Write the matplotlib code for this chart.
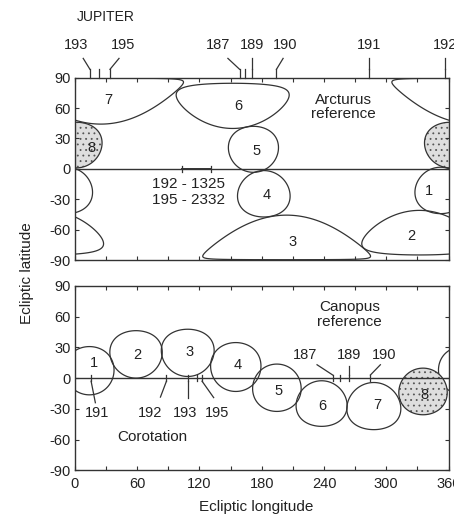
import numpy as np
import matplotlib
matplotlib.use("Agg")
import matplotlib.pyplot as plt
from matplotlib.patches import Polygon
from matplotlib.ticker import MultipleLocator, FuncFormatter
import matplotlib.transforms as mtransforms

plt.rcParams['font.family'] = ['Liberation Sans', 'DejaVu Sans']
plt.rcParams['hatch.linewidth'] = 0.6

INK = '#333333'
TXT = '#222222'
FS_TICK = 10.5
FS_TXT = 11

# ---- Arcturus-referenced regions (top panel): centre lon/lat and angular radius (deg)
top_ids = ['1', '2', '3', '4', '5', '6', '7', '8']
top_lon = [352.3, 332.0, 204.0, 182.0, 172.0, 152.0, 25.0, 1.5]
top_lat = [-21.3, -63.0, -67.7, -24.6, 19.3, 62.2, 66.9, 23.5]
top_rad = [22.9, 22.0, 22.0, 22.9, 22.7, 22.3, 22.7, 22.5]
top_label_lon = [340.7, 324.6, 210.0, 184.5, 175.0, 157.0, 32.5, 16.0]
top_label_lat = [-22.0, -66.5, -72.0, -26.2, 18.0, 62.2, 67.8, 20.6]

# ---- Canopus-referenced regions (bottom panel)
bot_ids = ['1', '2', '3', '4', '5', '6', '7', '8']
bot_lon = [14.0, 58.9, 108.7, 155.0, 194.6, 237.7, 288.0, 335.4]
bot_lat = [7.2, 23.1, 24.6, 10.8, -9.4, -24.8, -27.25, -13.0]
bot_rad = [23.5, 23.1, 23.0, 23.8, 23.05, 22.2, 22.95, 22.7]
bot_label_lon = [18.1, 60.5, 110.6, 157.2, 196.4, 238.0, 291.0, 337.0]
bot_label_lat = [14.6, 22.6, 25.9, 12.9, -13.0, -27.6, -26.0, -16.2]
stippled_id = '8'

# ---- Jupiter orbit markers, top panel (along upper axis)
top_orbit = [193, 194, 195, 187, 188, 189, 190, 191, 192]
top_orbit_lon = [14.5, 23.5, 33.8, 158.7, 164.3, 170.6, 194.2, 283.4, 356.8]
top_orbit_labeled = [True, False, True, True, False, True, True, True, True]
top_orbit_text_lon = [1.5, None, 46.0, 137.8, None, 170.6, 203.0, 283.4, 356.8]
top_orbit_leader_lon = [8.0, None, 42.5, 147.4, None, 170.6, 200.6, 283.4, 356.8]

# ---- Jupiter orbit markers, bottom panel (on the ecliptic)
bot_orbit = [191, 192, 193, 194, 195, 187, 188, 189, 190]
bot_orbit_lon = [15.6, 88.2, 109.0, 117.7, 122.5, 248.4, 255.8, 264.5, 284.7]
bot_orbit_text_lon = [21.4, 72.7, 106.5, None, 137.0, 222.0, None, 264.5, 297.5]
bot_orbit_text_lat = [-34.0, -34.0, -34.0, None, -34.0, 22.6, None, 22.6, 22.6]
bot_orbit_leader_lon = [19.7, 82.4, 109.0, None, 133.7, 233.3, None, 264.5, 294.3]
bot_orbit_leader_lat = [-24.0, -18.5, -19.0, None, -19.0, 13.0, None, 12.0, 13.0]

xticks = [0, 60, 120, 180, 240, 300, 360]
yticks = [-90, -60, -30, 0, 30, 60, 90]


def cap(lon0, lat0, r, n=721):
    th = np.linspace(0, 2 * np.pi, n)
    p0, rr = np.radians(lat0), np.radians(r)
    sinp = np.sin(p0) * np.cos(rr) + np.cos(p0) * np.sin(rr) * np.cos(th)
    p = np.arcsin(np.clip(sinp, -1, 1))
    dl = np.arctan2(np.sin(th) * np.sin(rr) * np.cos(p0),
                    np.cos(rr) - np.sin(p0) * sinp)
    return lon0 + np.degrees(dl), np.degrees(p)


def draw_caps(ax, ids, lons, lats, rads):
    for i, lo, la, r in zip(ids, lons, lats, rads):
        x, y = cap(lo, la, r)
        for off in (-360, 0, 360):
            pts = np.column_stack([x + off, y])
            if i == stippled_id:
                poly = Polygon(pts, closed=True, facecolor='#dedede',
                               edgecolor='#555555', hatch='...', lw=0)
                ax.add_patch(poly)
            ax.add_patch(Polygon(pts, closed=True, fill=False,
                                 edgecolor=INK, lw=0.9))


def style(ax, show_x):
    ax.set_xlim(0, 360)
    ax.set_ylim(-90, 90)
    ax.xaxis.set_major_locator(MultipleLocator(30))
    ax.yaxis.set_major_locator(MultipleLocator(30))
    ax.xaxis.set_major_formatter(FuncFormatter(
        lambda v, _: (str(int(round(v))) if (show_x and round(v) in xticks) else '')))
    ax.yaxis.set_major_formatter(FuncFormatter(
        lambda v, _: str(int(round(v))) if round(v) in yticks else ''))
    ax.tick_params(direction='in', length=3, width=0.8, color=INK,
                   top=True, right=True, labelsize=FS_TICK, labelcolor=TXT)
    ax.tick_params(axis='y', pad=3)
    ax.tick_params(axis='x', pad=5)
    for s in ax.spines.values():
        s.set_color(INK)
        s.set_linewidth(1.0)
    ax.axhline(0, color=INK, lw=1.0)


fig = plt.figure(figsize=(4.54, 5.16), dpi=100)
ax1 = fig.add_axes([0.165, 0.4961, 0.823, 0.3533])
ax2 = fig.add_axes([0.165, 0.0882, 0.823, 0.3581])

style(ax1, False)
style(ax2, True)

draw_caps(ax1, top_ids, top_lon, top_lat, top_rad)
draw_caps(ax2, bot_ids, bot_lon, bot_lat, bot_rad)

for i, lo, la in zip(top_ids, top_label_lon, top_label_lat):
    ax1.text(lo, la, i, ha='center', va='center', fontsize=FS_TICK, color=TXT)
for i, lo, la in zip(bot_ids, bot_label_lon, bot_label_lat):
    ax2.text(lo, la, i, ha='center', va='center', fontsize=FS_TICK, color=TXT)

# top Jupiter markers
trans = mtransforms.blended_transform_factory(ax1.transData, ax1.transAxes)
for orb, lo, lab, tlo, llo in zip(top_orbit, top_orbit_lon, top_orbit_labeled,
                                  top_orbit_text_lon, top_orbit_leader_lon):
    ax1.plot([lo, lo], [1.0, 1.046], transform=trans, color=INK, lw=0.9,
             clip_on=False)
    if lab:
        ax1.plot([lo, llo], [1.046, 1.106], transform=trans, color=INK,
                 lw=0.9, clip_on=False)
        ax1.text(tlo, 1.18, str(orb), transform=trans, ha='center',
                 va='center', fontsize=FS_TICK, color=TXT, clip_on=False)
ax1.text(2.0, 1.335, 'JUPITER', transform=trans, ha='left', va='center',
         fontsize=10, color=TXT)

# scale bar on ecliptic
ax1.plot([103.2, 131.2], [0, 0], color=INK, lw=1.4)
ax1.plot([103.2, 103.2], [-3, 3], color=INK, lw=0.9)
ax1.plot([131.2, 131.2], [-3, 3], color=INK, lw=0.9)
ax1.text(109.5, -14.7, '192 - 1325', ha='center', va='center', fontsize=FS_TXT,
         color=TXT)
ax1.text(109.5, -30.6, '195 - 2332', ha='center', va='center', fontsize=FS_TXT,
         color=TXT)
ax1.text(259, 68.1, 'Arcturus', ha='center', va='center', fontsize=FS_TXT,
         color=TXT)
ax1.text(259, 54.0, 'reference', ha='center', va='center', fontsize=FS_TXT,
         color=TXT)

# bottom Jupiter markers
for orb, lo, tlo, tla, llo, lla in zip(bot_orbit, bot_orbit_lon,
                                       bot_orbit_text_lon, bot_orbit_text_lat,
                                       bot_orbit_leader_lon, bot_orbit_leader_lat):
    ax2.plot([lo, lo], [-3, 3], color=INK, lw=0.9)
    if tlo is not None:
        start = -3 if tla < 0 else 3
        ax2.plot([lo, llo], [start, lla], color=INK, lw=0.9)
        ax2.text(tlo, tla, str(orb), ha='center', va='center', fontsize=FS_TICK,
                 color=TXT)

ax2.text(264.6, 69.6, 'Canopus', ha='center', va='center', fontsize=FS_TXT,
         color=TXT)
ax2.text(264.6, 55.0, 'reference', ha='center', va='center', fontsize=FS_TXT,
         color=TXT)
ax2.text(74.8, -57.7, 'Corotation', ha='center', va='center', fontsize=FS_TXT,
         color=TXT)

fig.text(256 / 454, 1 - 506.7 / 516, 'Ecliptic longitude', ha='center',
         va='center', fontsize=FS_TXT, color=TXT)
fig.text(27 / 454, 1 - 273 / 516, 'Ecliptic latitude', ha='center',
         va='center', rotation=90, fontsize=FS_TXT, color=TXT)

fig.savefig('out.png', dpi=100, facecolor='white')
